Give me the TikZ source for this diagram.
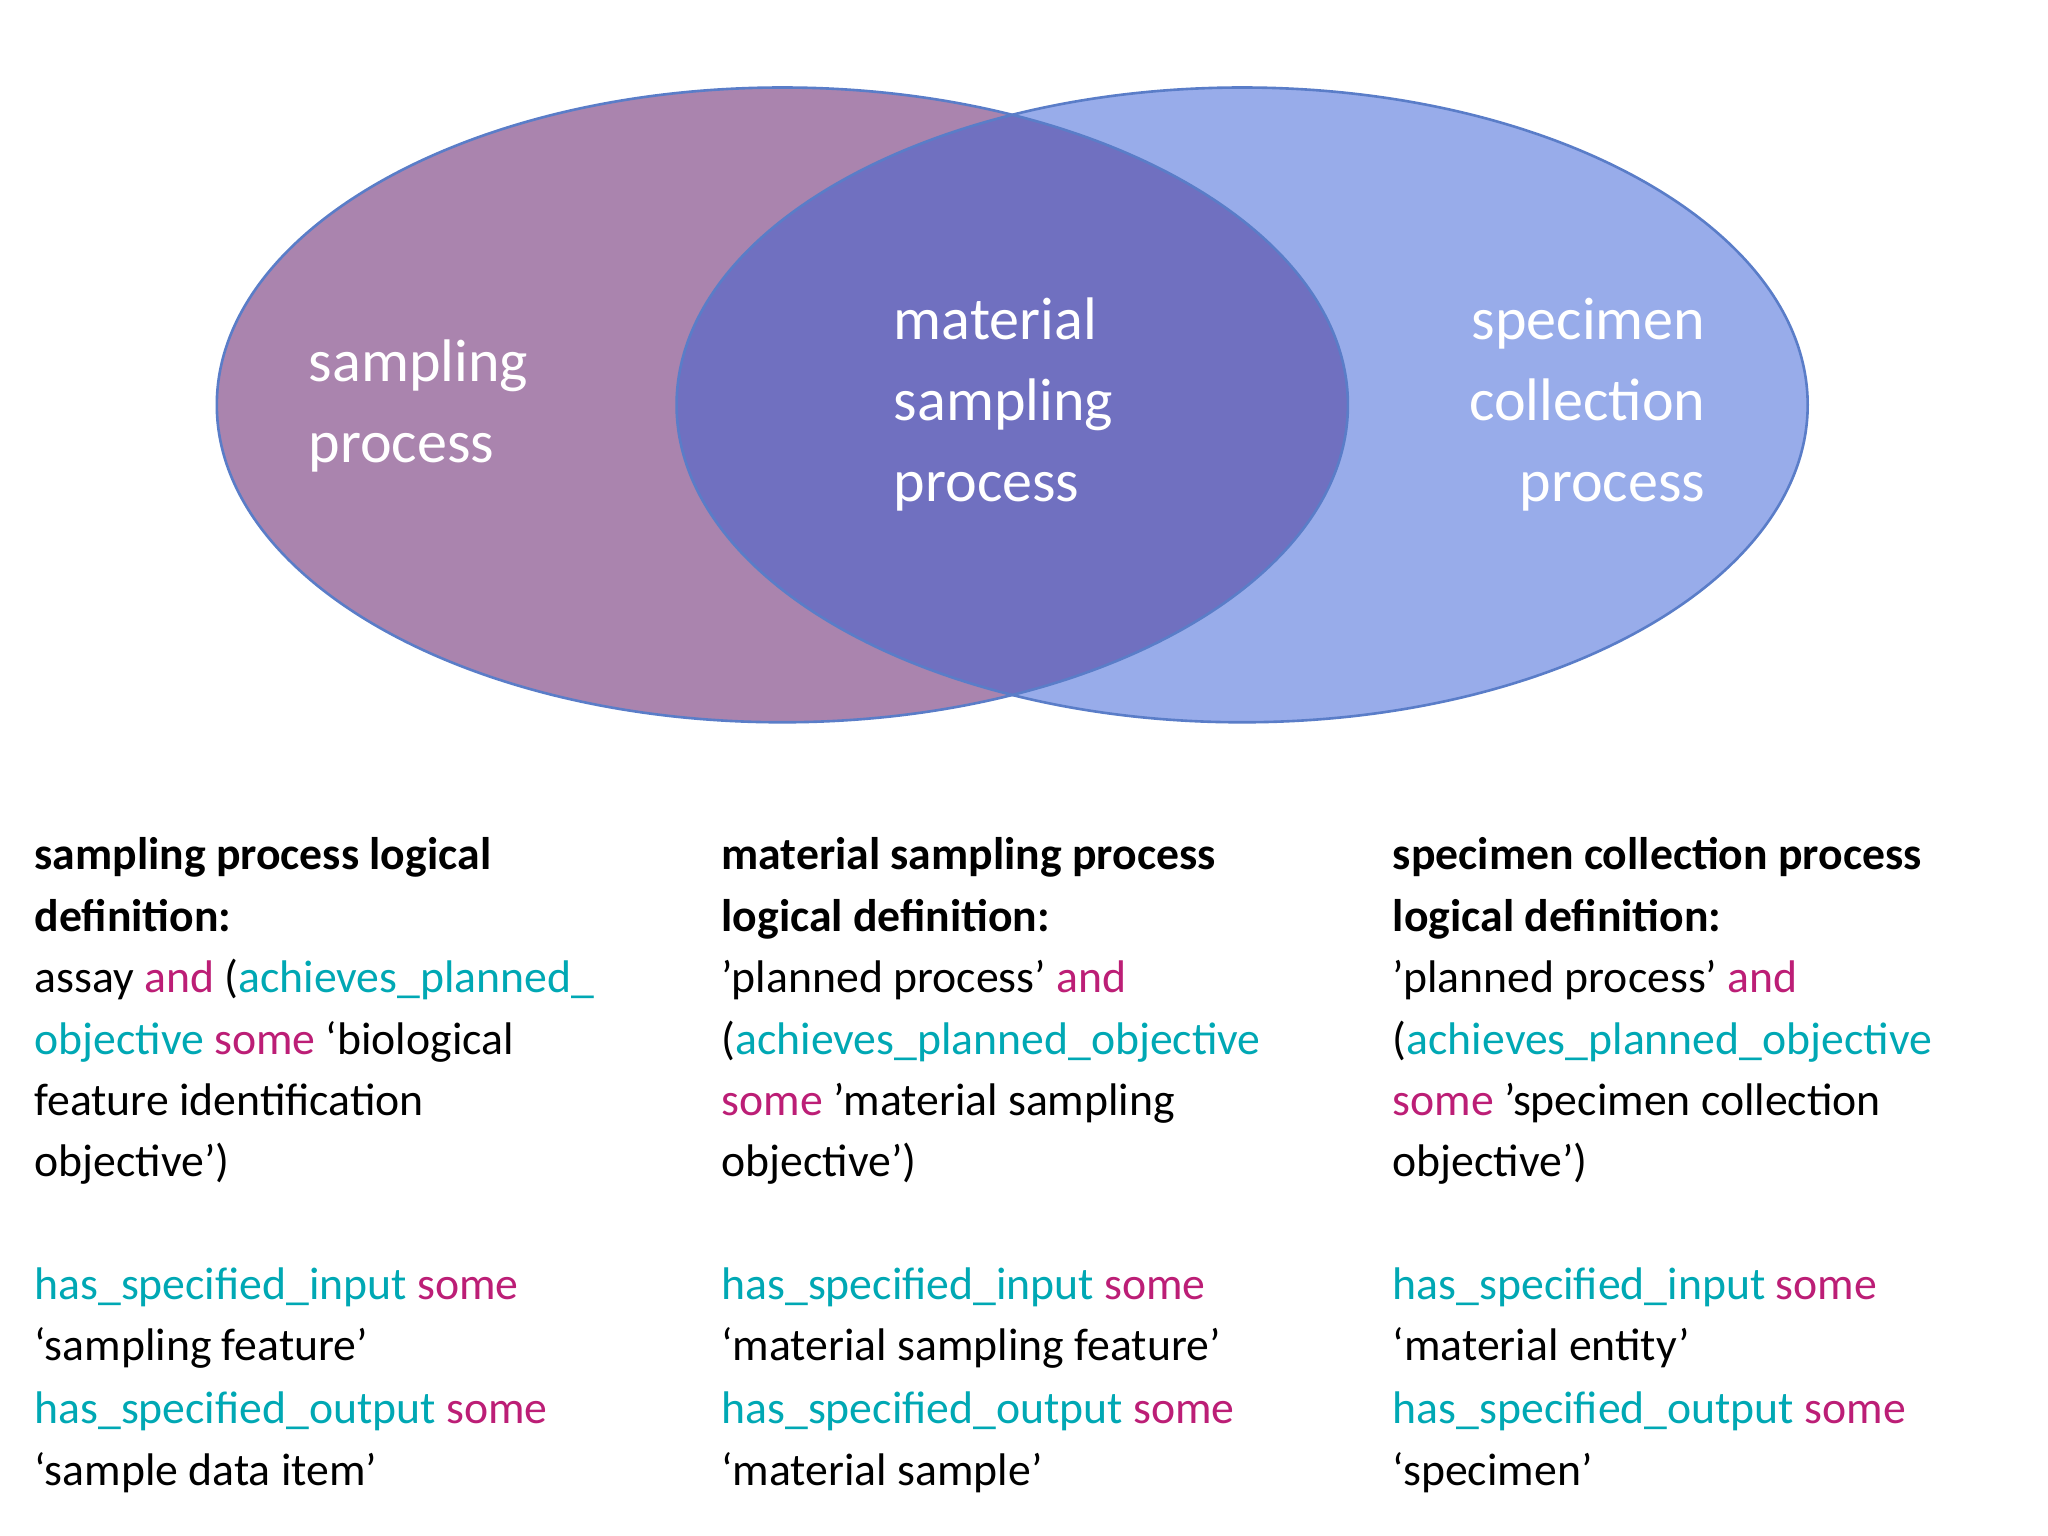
\documentclass[tikz,border=0pt]{standalone}
\usepackage{fontspec}
\setmainfont{Carlito}
\definecolor{lp}{RGB}{170,132,174}
\definecolor{rb}{RGB}{152,172,234}
\definecolor{mid}{RGB}{112,112,192}
\definecolor{edge}{RGB}{90,125,200}
\definecolor{tl}{RGB}{0,168,180}
\definecolor{mg}{RGB}{188,30,118}
\newcommand{\T}[1]{\textcolor{tl}{#1}}
\newcommand{\M}[1]{\textcolor{mg}{#1}}
\begin{document}
\begin{tikzpicture}[x=0.5pt,y=-0.5pt,
  lab/.style={text=white,font=\fontsize{23}{31}\selectfont,align=left,inner sep=0},
  ln/.style={anchor=base west,inner sep=0,font=\fontsize{17.5}{21}\selectfont}]
\useasboundingbox (0,0) rectangle (1568,1176);
\fill[white] (0,0) rectangle (1568,1176);
\fill[rb] (951,310) ellipse [x radius=433,y radius=243];
\fill[lp] (599,310) ellipse [x radius=433,y radius=243];
\begin{scope}
\clip (951,310) ellipse [x radius=433,y radius=243];
\fill[mid] (599,310) ellipse [x radius=433,y radius=243];
\end{scope}
\draw[edge,line width=1pt] (951,310) ellipse [x radius=433,y radius=243];
\draw[edge,line width=1pt] (599,310) ellipse [x radius=433,y radius=243];
\node[lab,anchor=west] (l) at (236,311) {sampling\\process};
\node[lab,anchor=west] (m) at (684,310) {material\\sampling\\process};
\node[lab,anchor=east,align=right] (r) at (1306,310) {specimen\\collection\\\phantom{x}process};
% column 1
\node[ln] (a1) at (26,666) {\textbf{sampling process logical}};
\node[ln] (a2) at (26,713) {\textbf{definition:}};
\node[ln] (a3) at (26,760) {assay \M{and} (\T{achieves\_planned\_}};
\node[ln] (a4) at (26,807) {\T{objective} \M{some} ‘biological};
\node[ln] (a5) at (26,854) {feature identification};
\node[ln] (a6) at (26,901) {objective’)};
\node[ln] (a7) at (26,995) {\T{has\_specified\_input} \M{some}};
\node[ln] (a8) at (26,1042) {‘sampling feature’};
\node[ln] (a9) at (26,1090) {\T{has\_specified\_output} \M{some}};
\node[ln] (a10) at (26,1137) {‘sample data item’};
% column 2
\node[ln] (b1) at (552,666) {\textbf{material sampling process}};
\node[ln] (b2) at (552,713) {\textbf{logical definition:}};
\node[ln] (b3) at (552,760) {'planned process' \M{and}};
\node[ln] (b4) at (552,807) {(\T{achieves\_planned\_objective}};
\node[ln] (b5) at (552,854) {\M{some} ’material sampling};
\node[ln] (b6) at (552,901) {objective')};
\node[ln] (b7) at (552,995) {\T{has\_specified\_input} \M{some}};
\node[ln] (b8) at (552,1042) {‘material sampling feature’};
\node[ln] (b9) at (552,1090) {\T{has\_specified\_output} \M{some}};
\node[ln] (b10) at (552,1137) {‘material sample’};
% column 3
\node[ln] (c1) at (1066,666) {\textbf{specimen collection process}};
\node[ln] (c2) at (1066,713) {\textbf{logical definition:}};
\node[ln] (c3) at (1066,760) {'planned process' \M{and}};
\node[ln] (c4) at (1066,807) {(\T{achieves\_planned\_objective}};
\node[ln] (c5) at (1066,854) {\M{some} 'specimen collection};
\node[ln] (c6) at (1066,901) {objective')};
\node[ln] (c7) at (1066,995) {\T{has\_specified\_input} \M{some}};
\node[ln] (c8) at (1066,1042) {‘material entity’};
\node[ln] (c9) at (1066,1090) {\T{has\_specified\_output} \M{some}};
\node[ln] (c10) at (1066,1137) {‘specimen’};
\end{tikzpicture}
\end{document}
